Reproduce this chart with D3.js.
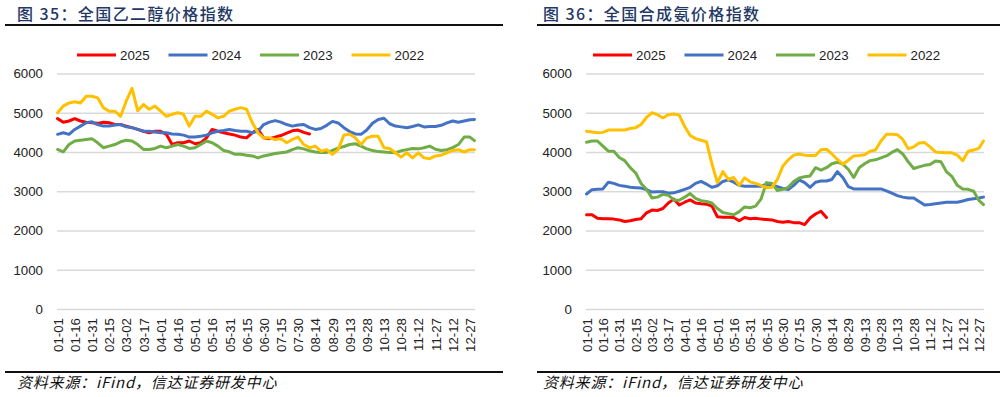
<!DOCTYPE html>
<html>
<head>
<meta charset="utf-8">
<script src="https://cdn.jsdelivr.net/npm/d3@7/dist/d3.min.js"></script>
<style>
  body { margin: 0; background: #fff; }
  svg text { font-family: "Liberation Sans", Arial, sans-serif; }
  .cn { font-family: "Noto Sans CJK SC", sans-serif; }
</style>
</head>
<body>
<svg id="chart" width="1006" height="397"></svg>
<script>
// categories / legend
const seriesNames = ["2025", "2024", "2023", "2022"];
const seriesColors = ["#FF0000", "#4472C4", "#70AD47", "#FFC000"];
const dateLabels = ["01-01","01-16","01-31","02-15","03-02","03-17","04-01","04-16","05-01","05-16",
  "05-31","06-15","06-30","07-15","07-30","08-14","08-29","09-13","09-28","10-13","10-28","11-12",
  "11-27","12-12","12-27"];
const yTicks = [0, 1000, 2000, 3000, 4000, 5000, 6000];
// day of year of each sampled value (every 5 days, last one 12-31)
const sampleDays = d3.range(0, 361, 5).concat([364]);

// 图35 乙二醇
const meg2025 = [4850,4760,4790,4850,4790,4760,4745,4730,4760,4745,4700,4700,4660,4620,4575,4530,4490,4530,
  4530,4450,4190,4235,4235,4280,4210,4235,4360,4575,4530,4490,4460,4430,4380,4360,4490,4575,4360,4340,4380,
  4420,4480,4540,4560,4500,4460];
const meg2024 = [4450,4490,4450,4575,4660,4745,4770,4700,4660,4660,4690,4700,4640,4620,4575,4530,4530,4510,
  4490,4490,4460,4450,4430,4380,4380,4400,4430,4490,4530,4550,4575,4550,4530,4530,4490,4530,4700,4760,4800,
  4760,4700,4660,4690,4700,4620,4575,4600,4680,4780,4740,4620,4520,4460,4450,4560,4730,4830,4860,4720,4660,
  4640,4620,4650,4690,4640,4650,4650,4680,4740,4790,4760,4790,4820,4830];
const meg2023 = [4065,4005,4190,4280,4300,4320,4340,4235,4110,4150,4190,4260,4300,4280,4190,4065,4065,4090,
  4150,4110,4150,4190,4150,4090,4110,4190,4280,4235,4150,4040,4005,3940,3940,3920,3900,3850,3900,3930,3960,
  3980,4000,4060,4110,4080,4030,4000,3990,3990,4040,4100,4140,4190,4210,4150,4080,4040,4010,4000,3990,3980,
  4030,4060,4090,4080,4110,4150,4070,4040,4060,4110,4190,4380,4380,4290];
const meg2022 = [5000,5170,5250,5280,5250,5420,5420,5380,5130,5040,5040,4910,5300,5620,5050,5210,5090,5170,
  5040,4910,4960,5000,4960,4660,4910,4910,5040,4960,4870,4910,5040,5090,5130,5090,4750,4490,4360,4360,4320,
  4340,4235,4320,4380,4190,4110,4150,4020,4060,3940,4060,4430,4460,4360,4190,4360,4400,4400,4110,4090,3980,
  3870,3980,3850,3980,3850,3830,3900,3920,3980,4040,4060,4000,4060,4060];

// 图36 合成氨
const nh2025 = [2400,2400,2310,2300,2300,2290,2270,2230,2250,2280,2300,2450,2520,2510,2560,2700,2800,2650,
  2720,2780,2700,2680,2670,2620,2350,2340,2340,2330,2250,2330,2300,2310,2290,2280,2270,2230,2210,2230,2200,
  2200,2150,2320,2420,2490,2330];
const nh2024 = [2930,3040,3050,3060,3230,3200,3150,3130,3100,3090,3080,3040,2980,2990,2990,2950,2960,3000,
  3050,3100,3200,3250,3180,3100,3140,3250,3290,3230,3150,3130,3130,3130,3130,3180,3150,3120,3070,3045,3150,
  3290,3220,3100,3230,3260,3260,3300,3500,3350,3120,3060,3060,3060,3060,3060,3060,3010,2950,2890,2850,2830,
  2830,2740,2650,2660,2680,2700,2720,2720,2720,2750,2790,2810,2830,2850];
const nh2023 = [4250,4280,4280,4150,4020,4020,3860,3780,3600,3470,3200,3050,2830,2850,2920,2900,2780,2770,
  2850,2940,2820,2760,2740,2700,2560,2460,2430,2400,2480,2600,2580,2620,2800,3220,3200,3020,3050,3100,3250,
  3340,3370,3390,3600,3540,3600,3700,3740,3690,3560,3350,3600,3700,3780,3800,3850,3900,3990,4060,3950,3750,
  3580,3620,3660,3680,3770,3750,3500,3380,3150,3060,3050,3000,2760,2660];
const nh2022 = [4530,4510,4490,4500,4560,4560,4560,4560,4600,4620,4700,4880,5000,4950,4870,4950,4970,4940,
  4650,4420,4340,4300,4260,3700,3220,3500,3300,3350,3150,3340,3240,3200,3150,3090,3100,3300,3640,3800,3920,
  3950,3920,3910,3910,4060,4070,3950,3810,3690,3790,3900,3910,3930,4020,4050,4280,4450,4450,4440,4320,4080,
  4130,4230,4240,4130,4000,3990,3980,3980,3920,3780,4020,4050,4100,4280];

const panels = [
  { title: "图 35：全国乙二醇价格指数", x0: 5, x1: 503, titleX: 17, left: 57, right: 475, legendX: 77,
    series: [meg2025, meg2024, meg2023, meg2022] },
  { title: "图 36：全国合成氨价格指数", x0: 537, x1: 1000, titleX: 543, left: 586, right: 984, legendX: 593,
    series: [nh2025, nh2024, nh2023, nh2022] }
];

const svg = d3.select("#chart");
const plotTop = 73.5, plotBottom = 309;

function drawPanel(p) {
  const g = svg.append("g");

  // title + rules
  g.append("text").attr("class", "cn")
    .attr("x", p.titleX).attr("y", 20)
    .attr("font-size", 16).attr("font-weight", 500)
    .attr("letter-spacing", 1.4)
    .attr("fill", "#1F3864")
    .text(p.title);
  g.append("line").attr("x1", p.x0).attr("x2", p.x1).attr("y1", 25).attr("y2", 25)
    .attr("stroke", "#111").attr("stroke-width", 1.8);
  g.append("line").attr("x1", p.x0).attr("x2", p.x1).attr("y1", 372).attr("y2", 372)
    .attr("stroke", "#111").attr("stroke-width", 1.8);
  g.append("text").attr("class", "cn")
    .attr("x", p.titleX).attr("y", 388)
    .attr("font-size", 15).attr("font-style", "italic")
    .attr("letter-spacing", 0.8)
    .attr("fill", "#111")
    .text("资料来源：iFind，信达证券研发中心");

  const x = d3.scaleLinear().domain([-0.5, 364.5]).range([p.left, p.right]);
  const y = d3.scaleLinear().domain([0, 6000]).range([plotBottom, plotTop]);

  // y axis + gridlines
  g.append("g").attr("transform", `translate(${p.left},0)`)
    .call(d3.axisLeft(y).tickValues(yTicks).tickSize(-(p.right - p.left)).tickPadding(14).tickFormat(d3.format("d")))
    .call(a => a.select(".domain").remove())
    .call(a => a.selectAll(".tick line").attr("stroke", "#D9D9D9").attr("stroke-width", 1.3))
    .call(a => a.selectAll(".tick text").attr("font-size", 13.3).attr("fill", "#222")
      .style("font-family", "'Liberation Sans', Arial, sans-serif"));

  // x axis, rotated date labels
  g.append("g").attr("transform", `translate(0,${plotBottom})`)
    .call(d3.axisBottom(x).tickValues(dateLabels.map((d, i) => i * 15)).tickSize(0)
      .tickFormat((d, i) => dateLabels[i]))
    .call(a => a.select(".domain").remove())
    .call(a => a.selectAll(".tick text")
      .attr("transform", "rotate(-90)")
      .attr("x", -9).attr("y", 0).attr("dy", "0.35em")
      .style("text-anchor", "end")
      .style("font-family", "'Liberation Sans', Arial, sans-serif")
      .attr("font-size", 13.3).attr("fill", "#222"));

  // lines
  const line = d3.line()
    .x((d, i) => x(sampleDays[i]))
    .y(d => y(d));
  p.series.forEach((s, k) => {
    g.append("path").datum(s)
      .attr("d", line)
      .attr("fill", "none")
      .attr("stroke", seriesColors[k])
      .attr("stroke-width", 3)
      .attr("stroke-linejoin", "round")
      .attr("stroke-linecap", "round");
  });

  // legend
  const lg = g.append("g");
  seriesNames.forEach((name, k) => {
    const lx = p.legendX + k * 91.5;
    lg.append("line").attr("x1", lx).attr("x2", lx + 39).attr("y1", 55).attr("y2", 55)
      .attr("stroke", seriesColors[k]).attr("stroke-width", 3);
    lg.append("text").attr("x", lx + 43).attr("y", 55).attr("dy", "0.35em")
      .attr("font-size", 13.3).attr("fill", "#222").text(name);
  });
}

panels.forEach(drawPanel);
</script>
</body>
</html>
